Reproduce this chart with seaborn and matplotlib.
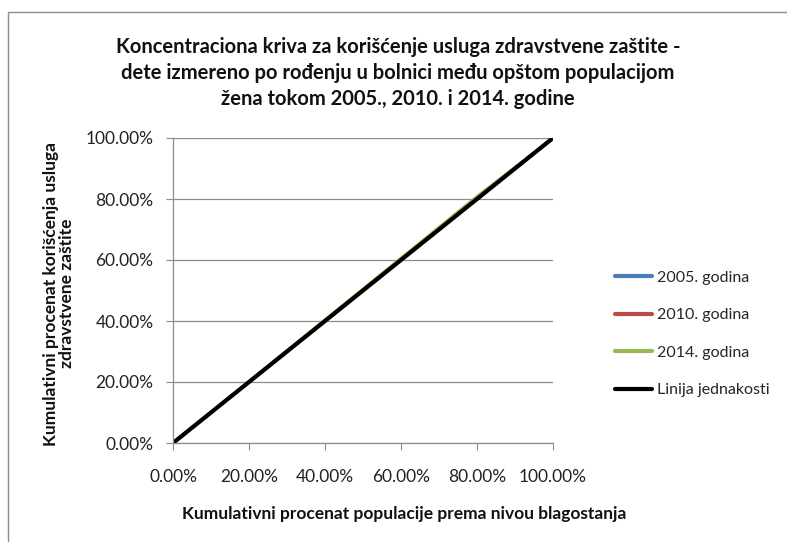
import matplotlib
matplotlib.use("Agg")
import matplotlib.pyplot as plt
import seaborn as sns
import pandas as pd
from matplotlib.patches import Rectangle
from matplotlib.ticker import PercentFormatter

population = [0.0, 20.0, 40.0, 60.0, 80.0, 100.0]
y2005 = [0.0, 20.0, 40.1, 60.2, 80.2, 100.0]
y2010 = [0.0, 20.1, 40.2, 60.3, 80.3, 100.0]
y2014 = [0.0, 20.2, 40.4, 60.6, 80.8, 100.0]
equality = [0.0, 20.0, 40.0, 60.0, 80.0, 100.0]
series_names = ["2005. godina", "2010. godina", "2014. godina", "Linija jednakosti"]
colors = ["#4a7ebb", "#be4b48", "#98b954", "#000000"]

sns.set_theme(style="white")
plt.rcParams['font.family'] = ['Lato', 'DejaVu Sans']

df = pd.concat([
    pd.DataFrame({"x": population, "y": vals, "serija": name})
    for name, vals in zip(series_names, [y2005, y2010, y2014, equality])
])

fig = plt.figure(figsize=(7.87, 5.42), dpi=100)
ax = fig.add_axes([173/787, 1-443/542, (553-173)/787, (443-138)/542])

sns.lineplot(data=df, x="x", y="y", hue="serija", palette=colors,
             hue_order=series_names, ax=ax, linewidth=2.2, legend=False,
             sort=False)
for ln, lw in zip(ax.lines, [2.2, 2.2, 2.2, 3.0]):
    ln.set_linewidth(lw)

ax.set_xlim(0, 100)
ax.set_ylim(0, 100)
ax.set_xticks([0, 20, 40, 60, 80, 100])
ax.set_yticks([0, 20, 40, 60, 80, 100])
ax.xaxis.set_major_formatter(PercentFormatter(decimals=2))
ax.yaxis.set_major_formatter(PercentFormatter(decimals=2))
ax.tick_params(axis='both', labelsize=12.5, colors='#222222', length=5,
               width=0.8, direction='out', bottom=True, left=True)
ax.tick_params(axis='x', pad=14)
ax.tick_params(axis='y', pad=9)
ax.tick_params(axis='both', color='#8c8c8c')
ax.grid(axis='y', color='#8c8c8c', linewidth=0.9)
ax.set_axisbelow(True)
for s in ['top', 'right']:
    ax.spines[s].set_visible(False)
for s in ['left', 'bottom']:
    ax.spines[s].set_color('#8c8c8c')
    ax.spines[s].set_linewidth(0.9)

ax.set_xlabel("Kumulativni procenat populacije prema nivou blagostanja",
              fontsize=12.5, fontweight='bold', color='#111111')
ax.xaxis.set_label_coords((404-173)/380, -(506-443)/305)
ax.set_ylabel("Kumulativni procenat korišćenja usluga\nzdravstvene zaštite",
              fontsize=12.5, fontweight='bold', color='#111111',
              linespacing=1.0)
ax.yaxis.set_label_coords(-(173-75)/380, 0.49)

fig.text(398/787, 1-73/542,
         "Koncentraciona kriva za korišćenje usluga zdravstvene zaštite -\n"
         "dete izmereno po rođenju u bolnici među opštom populacijom\n"
         "žena tokom 2005., 2010. i 2014. godine",
         ha='center', va='center', fontsize=14.5, fontweight='bold',
         linespacing=1.35, color='#111111')

handles = [plt.Line2D([], [], color=c, linewidth=3) for c in colors]
fig.legend(handles, series_names, loc='center left',
           bbox_to_anchor=(601/787, 1-334/542), frameon=False, fontsize=11.5,
           handlelength=2.3, handletextpad=0.3, labelspacing=1.45)

fig.patches.append(Rectangle((8/787, -0.1), 1.2, 1-12/542+0.1,
                             transform=fig.transFigure, fill=False,
                             edgecolor='#8c8c8c', linewidth=1.0))

fig.savefig("out.png", dpi=100)
